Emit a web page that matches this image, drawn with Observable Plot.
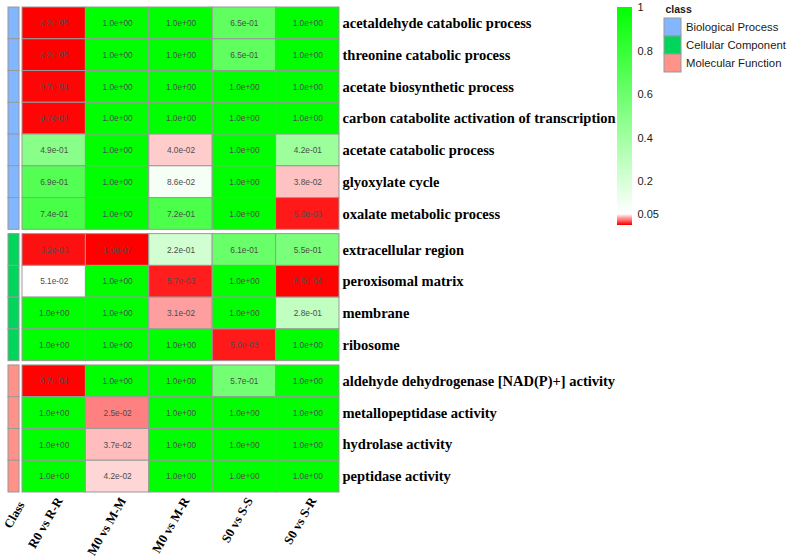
<!DOCTYPE html>
<html>
<head>
<meta charset="utf-8">
<script src="https://cdn.jsdelivr.net/npm/d3@7"></script>
<script src="https://cdn.jsdelivr.net/npm/@observablehq/plot@0.6"></script>
<style>
  html, body { margin: 0; padding: 0; background: #ffffff; }
  #wrap { position: relative; width: 787px; height: 559px; overflow: hidden; background: #ffffff; }
  #wrap > svg { position: absolute; max-width: none; }
</style>
</head>
<body>
<div id="wrap"></div>
<script>
// ---------------- data ----------------
const comparisons = ["R0 vs R-R", "M0 vs M-M", "M0 vs M-R", "S0 vs S-S", "S0 vs S-R"];

const terms = [
  "acetaldehyde catabolic process",
  "threonine catabolic process",
  "acetate biosynthetic process",
  "carbon catabolite activation of transcription",
  "acetate catabolic process",
  "glyoxylate cycle",
  "oxalate metabolic process",
  "extracellular region",
  "peroxisomal matrix",
  "membrane",
  "ribosome",
  "aldehyde dehydrogenase [NAD(P)+] activity",
  "metallopeptidase activity",
  "hydrolase activity",
  "peptidase activity"
];

const termClass = [
  "Biological Process", "Biological Process", "Biological Process", "Biological Process",
  "Biological Process", "Biological Process", "Biological Process",
  "Cellular Component", "Cellular Component", "Cellular Component", "Cellular Component",
  "Molecular Function", "Molecular Function", "Molecular Function", "Molecular Function"
];

const classes = ["Biological Process", "Cellular Component", "Molecular Function"];
const classColors = ["#82B7FF", "#00D65C", "#FF9289"];

// p-values per comparison (one entry per term, same order as `terms`)
const pR0vsRR = [4.2e-05, 4.2e-05, 9.7e-04, 9.7e-04, 4.9e-01, 6.9e-01, 7.4e-01, 3.2e-03, 5.1e-02, 1.0e+00, 1.0e+00, 6.7e-04, 1.0e+00, 1.0e+00, 1.0e+00];
const pM0vsMM = [1.0e+00, 1.0e+00, 1.0e+00, 1.0e+00, 1.0e+00, 1.0e+00, 1.0e+00, 1.0e-07, 1.0e+00, 1.0e+00, 1.0e+00, 1.0e+00, 2.5e-02, 3.7e-02, 4.2e-02];
const pM0vsMR = [1.0e+00, 1.0e+00, 1.0e+00, 1.0e+00, 4.0e-02, 8.6e-02, 7.2e-01, 2.2e-01, 5.7e-03, 3.1e-02, 1.0e+00, 1.0e+00, 1.0e+00, 1.0e+00, 1.0e+00];
const pS0vsSS = [6.5e-01, 6.5e-01, 1.0e+00, 1.0e+00, 1.0e+00, 1.0e+00, 1.0e+00, 6.1e-01, 1.0e+00, 1.0e+00, 5.0e-03, 5.7e-01, 1.0e+00, 1.0e+00, 1.0e+00];
const pS0vsSR = [1.0e+00, 1.0e+00, 1.0e+00, 1.0e+00, 4.2e-01, 3.8e-02, 5.0e-03, 5.5e-01, 6.6e-04, 2.8e-01, 1.0e+00, 1.0e+00, 1.0e+00, 1.0e+00, 1.0e+00];

const colorDomain = [0, 0.05, 1];
const colorRange = ["#ff0000", "#ffffff", "#00ff00"];
const legendTicks = [0.05, 0.2, 0.4, 0.6, 0.8, 1];

// ---------------- layout constants ----------------
const gapU = 0.135;                 // gap between class groups, in row units
const stripX = [-0.221, -0.047];    // class strip, in column units
const redShare = 11 / 218;          // share of the colour bar given to p < 0.05
const serif = "'Liberation Serif', 'Times New Roman', Times, serif";
const sans = "'Liberation Sans', Arial, Helvetica, sans-serif";

// ---------------- derived tables ----------------
const pColumns = [pR0vsRR, pM0vsMM, pM0vsMR, pS0vsSS, pS0vsSR];
const rows = terms.map((term, i) => {
  const cls = termClass[i];
  const g = classes.indexOf(cls);
  return {term, cls, top: i + g * gapU};
});
const cells = [];
rows.forEach((r, i) => {
  pColumns.forEach((col, j) => cells.push({...r, col: j, p: col[i]}));
});
const fmt = (p) => p.toExponential(1).replace(/e([+-])(\d+)$/, (m, s, d) => "e" + s + d.padStart(2, "0"));
// position along the colour bar (0 = bottom, 1 = top); the p < 0.05 part is compressed
const barPos = (v) => v < 0.05 ? (v / 0.05) * redShare : redShare + (v - 0.05) / 0.95 * (1 - redShare);

const colorScale = {type: "linear", domain: colorDomain, range: colorRange, interpolate: "rgb"};
const wrap = document.getElementById("wrap");

// ---------------- main heatmap ----------------
const main = Plot.plot({
  width: 787, height: 559,
  marginTop: 7, marginBottom: 67, marginLeft: 22, marginRight: 448,
  x: {domain: [0, comparisons.length], axis: null},
  y: {domain: [0, terms.length + 2 * gapU], reverse: true, axis: null},
  color: colorScale,
  style: {background: "transparent", overflow: "visible"},
  marks: [
    Plot.rect(cells, {
      x1: d => d.col, x2: d => d.col + 1, y1: d => d.top, y2: d => d.top + 1,
      fill: d => d.p, stroke: "#999999", strokeWidth: 1
    }),
    Plot.text(cells, {
      x: d => d.col + 0.5, y: d => d.top + 0.5, text: d => fmt(d.p),
      fill: "#4d4d4d", fontSize: 8.3, fontFamily: sans
    }),
    ...classes.map((c, k) => Plot.rect(rows.filter(r => r.cls === c), {
      x1: stripX[0], x2: stripX[1], y1: d => d.top, y2: d => d.top + 1,
      fill: classColors[k], stroke: "#999999", strokeWidth: 1
    })),
    Plot.text(rows, {
      y: d => d.top + 0.5, frameAnchor: "right", dx: 3, textAnchor: "start",
      text: d => d.term, fontSize: 14.5, fontWeight: "bold", fontFamily: serif, fill: "#000"
    }),
    Plot.text(comparisons, {
      x: (d, i) => i + 0.5, frameAnchor: "bottom", dx: 9, dy: 8, rotate: -60,
      textAnchor: "end", text: d => d, fontSize: 12.8, fontWeight: "bold", fontFamily: serif, fill: "#000"
    }),
    Plot.text(["Class"], {
      x: (stripX[0] + stripX[1]) / 2, frameAnchor: "bottom", dx: 11, dy: 12, rotate: -60,
      textAnchor: "end", text: d => d, fontSize: 12.5, fontWeight: "bold", fontFamily: serif, fill: "#000"
    })
  ]
});
main.style.left = "0px"; main.style.top = "0px";
wrap.appendChild(main);

// ---------------- colour bar legend ----------------
const barSteps = [...d3.range(0, 0.05, 0.0025), ...d3.range(0.05, 1, 0.005)];
const barNext = (i) => (i + 1 < barSteps.length ? barSteps[i + 1] : 1);
const bar = Plot.plot({
  width: 80, height: 240, margin: 0,
  x: {domain: [0, 1], range: [17, 32], axis: null},
  y: {domain: [0, 1], range: [225, 7], axis: null},
  color: colorScale,
  style: {background: "transparent", overflow: "visible"},
  marks: [
    Plot.rect(barSteps, {
      x1: 0, x2: 1, y1: d => barPos(d), y2: (d, i) => barPos(barNext(i)),
      fill: d => d, shapeRendering: "crispEdges"
    }),
    Plot.text(legendTicks, {
      x: 1, y: d => barPos(d), dx: 5, textAnchor: "start", text: d => String(d),
      fontSize: 11, fontFamily: sans, fill: "#1a1a1a"
    })
  ]
});
bar.style.left = "600px"; bar.style.top = "0px";
wrap.appendChild(bar);

// ---------------- class legend ----------------
const clsLegend = Plot.plot({
  width: 132, height: 80, margin: 0,
  x: {type: "band", domain: ["swatch"], range: [9, 26], padding: 0, axis: null},
  y: {type: "band", domain: classes, range: [18, 72], padding: 0, axis: null},
  color: {domain: classes, range: classColors},
  style: {background: "transparent", overflow: "visible"},
  marks: [
    Plot.cell(classes, {x: () => "swatch", y: d => d, fill: d => d, stroke: "#999999", strokeWidth: 1}),
    Plot.text(classes, {
      x: () => "swatch", y: d => d, dx: 13, textAnchor: "start", text: d => d,
      fontSize: 11.3, fontFamily: sans, fill: "#1a1a1a"
    }),
    Plot.text(["class"], {
      frameAnchor: "top-left", dx: 10, dy: 5, lineAnchor: "top", text: d => d,
      fontSize: 10.5, fontWeight: "bold", fontFamily: sans, fill: "#1a1a1a"
    })
  ]
});
clsLegend.style.left = "655px"; clsLegend.style.top = "0px";
wrap.appendChild(clsLegend);
</script>
</body>
</html>
